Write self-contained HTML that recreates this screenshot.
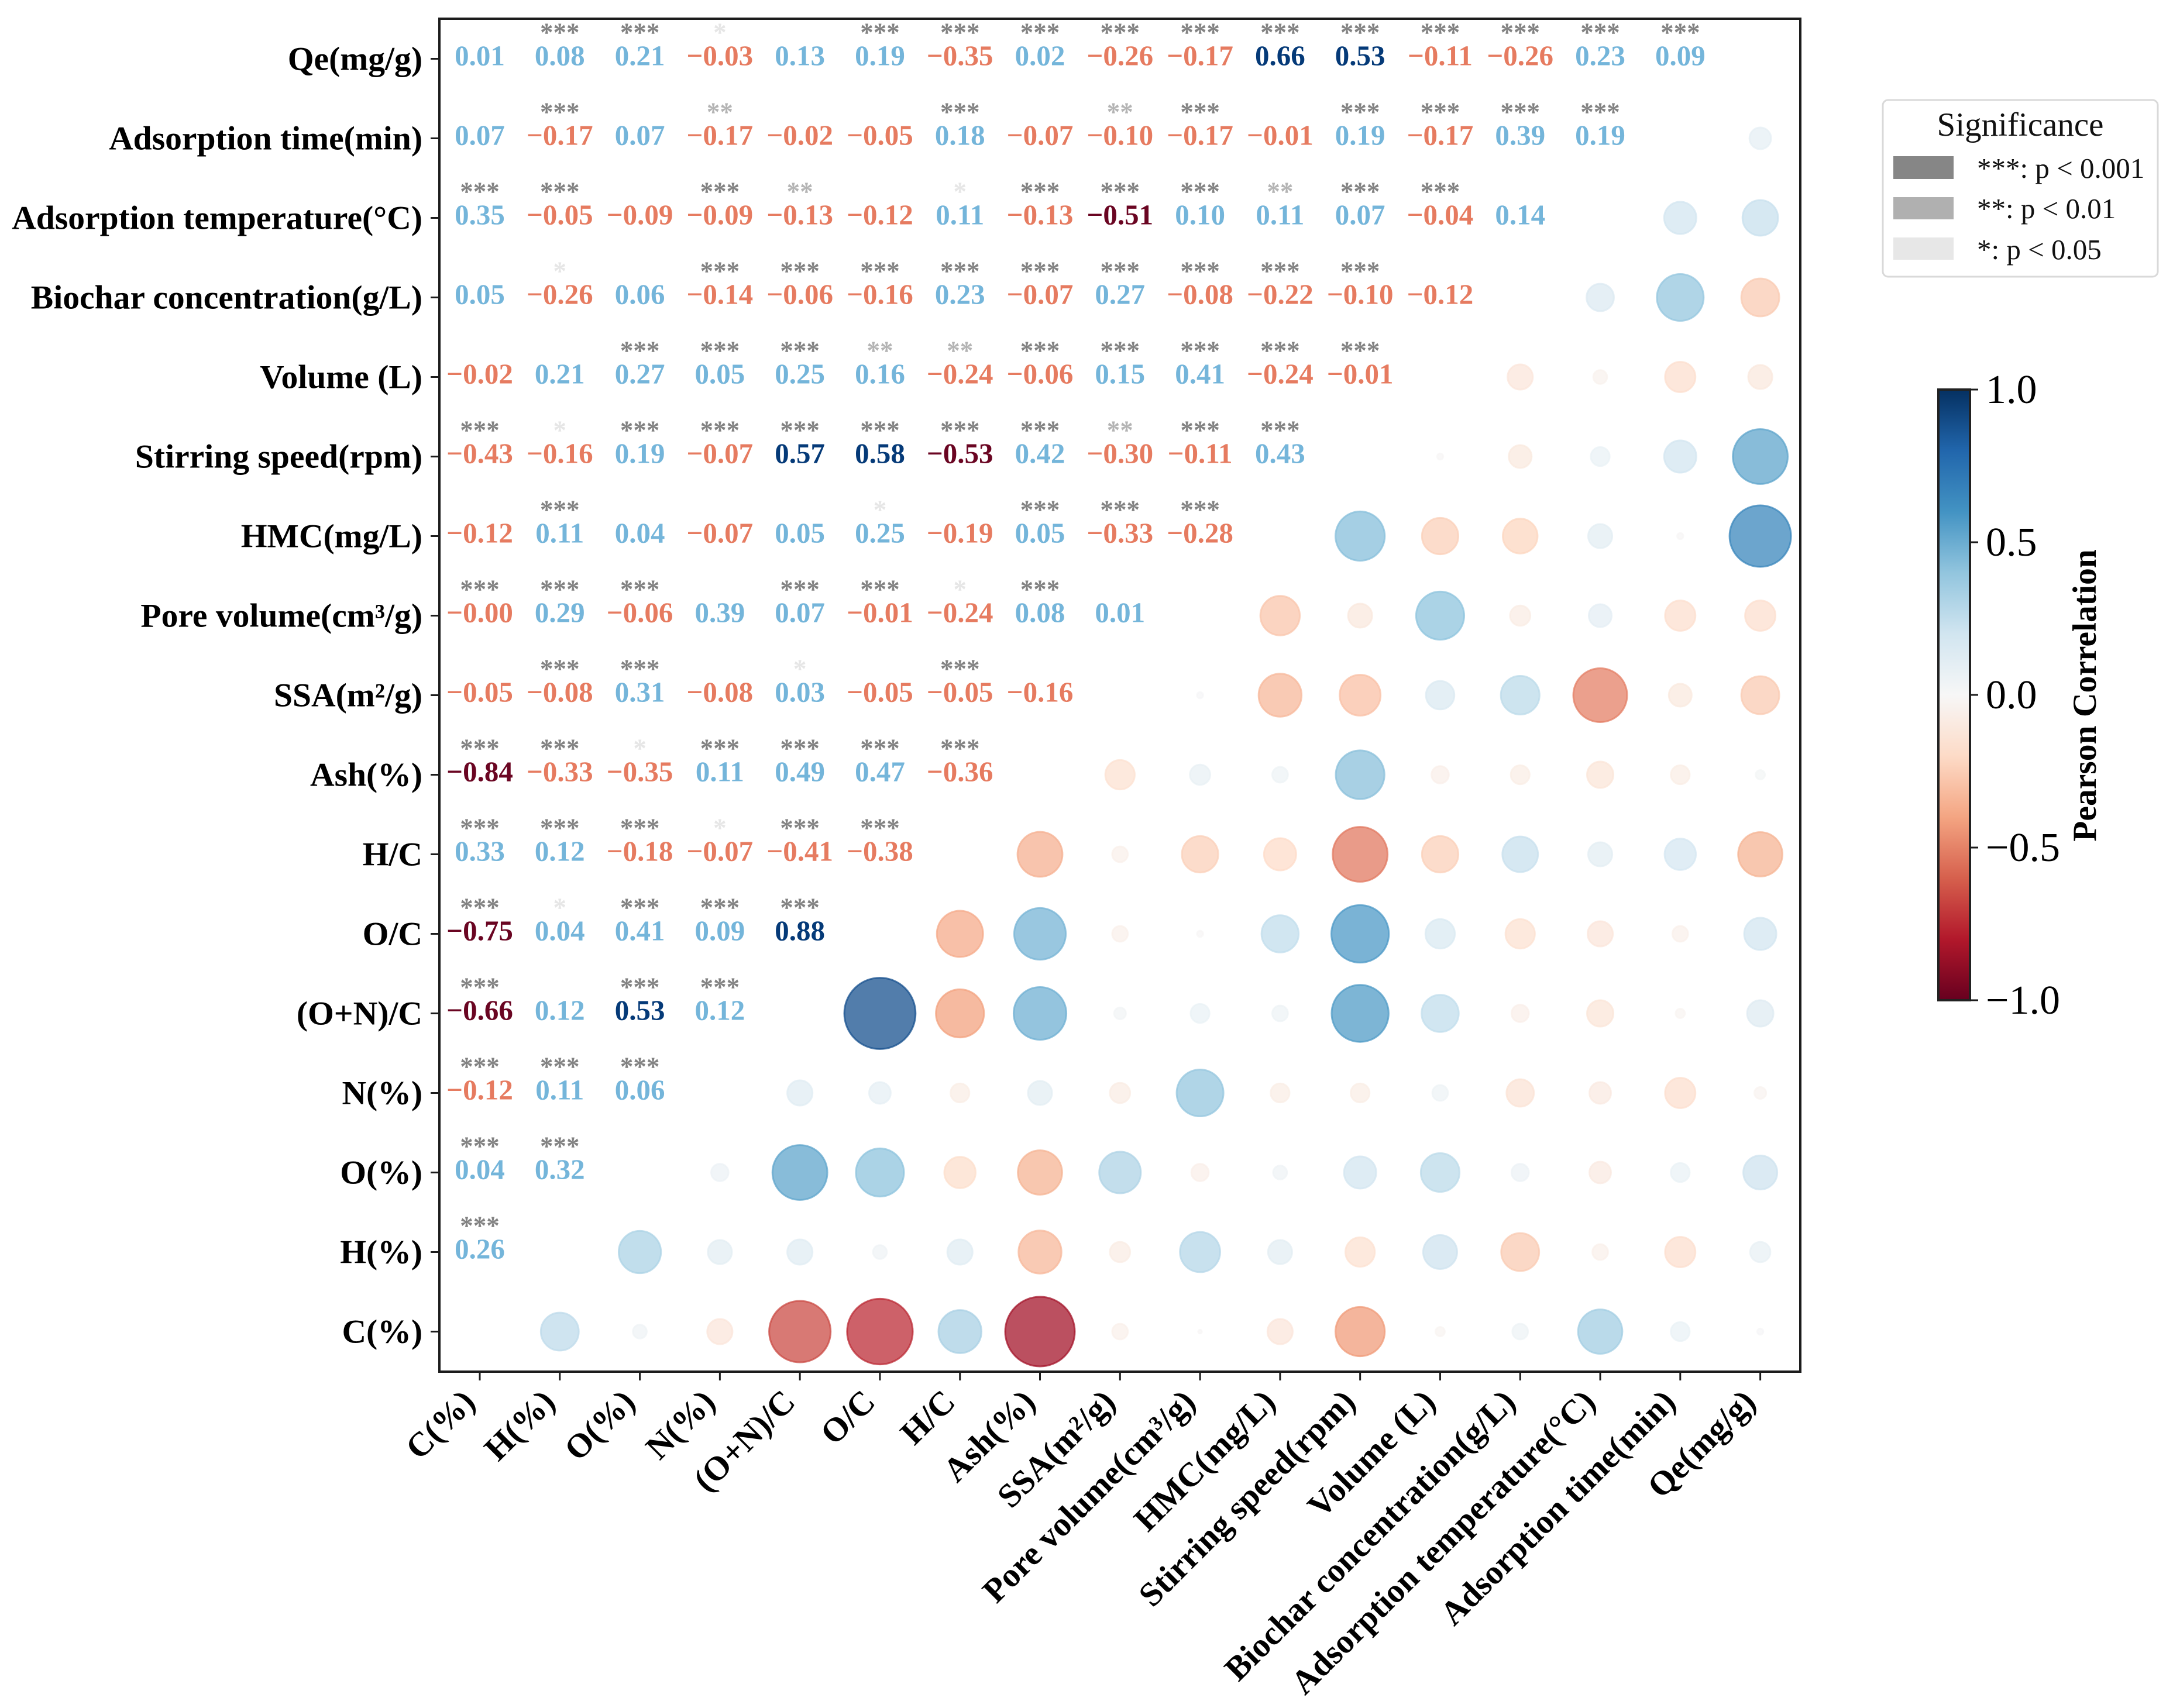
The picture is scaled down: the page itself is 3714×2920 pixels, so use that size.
<!DOCTYPE html>
<html lang="en">
<head>
<meta charset="utf-8">
<title>Pearson correlation matrix</title>
<style>
html,body{margin:0;padding:0;background:#fff;}
#stage{display:block;width:3714px;height:2920px;}
svg text{font-family:"Liberation Serif","Noto Serif CJK SC",serif;}
</style>
</head>
<body>
<svg id="stage" xmlns="http://www.w3.org/2000/svg" width="3714" height="2920" viewBox="0 0 3714 2920">
  <defs>
    <linearGradient id="cbar-grad" x1="0" y1="1" x2="0" y2="0"></linearGradient>
  </defs>
  <rect x="0" y="0" width="3714" height="2920" fill="#ffffff"></rect>
  <g id="circles"></g>
  <g id="values"></g>
  <g id="stars"></g>
  <rect x="751" y="32" width="2326" height="2313" fill="none" stroke="#1c1c1c" stroke-width="4"></rect>
  <g id="x-axis"></g>
  <g id="y-axis"></g>

  <g>
    <rect x="3218" y="171" width="470" height="302" rx="9" ry="9" fill="#ffffff" stroke="#d9d9d9" stroke-width="3"></rect>
    <text x="3453" y="232" font-size="57" text-anchor="middle" fill="#111">Significance</text>
    <rect x="3236" y="267" width="103" height="39" fill="#868686"></rect>
    <text x="3379" y="304" font-size="49" fill="#111">***: p &lt; 0.001</text>
    <rect x="3236" y="337" width="103" height="38" fill="#b0b0b0"></rect>
    <text x="3379" y="373" font-size="49" fill="#111">**: p &lt; 0.01</text>
    <rect x="3236" y="406" width="103" height="38" fill="#e7e7e7"></rect>
    <text x="3379" y="443" font-size="49" fill="#111">*: p &lt; 0.05</text>
  </g>

  <g id="colorbar">
    <rect x="3313" y="666" width="54" height="1044" fill="url(#cbar-grad)" stroke="#222" stroke-width="4"></rect>
    <text transform="translate(3582,1189) rotate(-90)" font-size="57.6" font-weight="bold" text-anchor="middle" fill="#000">Pearson Correlation</text>
  </g>
</svg>

<script>
// Column order, left to right
const columnLabels = ["C(%)","H(%)","O(%)","N(%)","(O+N)/C","O/C","H/C","Ash(%)","SSA(m²/g)","Pore volume(cm³/g)","HMC(mg/L)","Stirring speed(rpm)","Volume (L)","Biochar concentration(g/L)","Adsorption temperature(°C)","Adsorption time(min)","Qe(mg/g)"];

// Pearson r per row (top to bottom), read left to right up to the diagonal
const rowQe = [0.01,0.08,0.21,-0.03,0.13,0.19,-0.35,0.02,-0.26,-0.17,0.66,0.53,-0.11,-0.26,0.23,0.09];
const rowTime = [0.07,-0.17,0.07,-0.17,-0.02,-0.05,0.18,-0.07,-0.10,-0.17,-0.01,0.19,-0.17,0.39,0.19];
const rowTemp = [0.35,-0.05,-0.09,-0.09,-0.13,-0.12,0.11,-0.13,-0.51,0.10,0.11,0.07,-0.04,0.14];
const rowBiochar = [0.05,-0.26,0.06,-0.14,-0.06,-0.16,0.23,-0.07,0.27,-0.08,-0.22,-0.10,-0.12];
const rowVolume = [-0.02,0.21,0.27,0.05,0.25,0.16,-0.24,-0.06,0.15,0.41,-0.24,-0.01];
const rowStirring = [-0.43,-0.16,0.19,-0.07,0.57,0.58,-0.53,0.42,-0.30,-0.11,0.43];
const rowHMC = [-0.12,0.11,0.04,-0.07,0.05,0.25,-0.19,0.05,-0.33,-0.28];
const rowPore = [-0.0049,0.29,-0.06,0.39,0.07,-0.01,-0.24,0.08,0.01];
const rowSSA = [-0.05,-0.08,0.31,-0.08,0.03,-0.05,-0.05,-0.16];
const rowAsh = [-0.84,-0.33,-0.35,0.11,0.49,0.47,-0.36];
const rowHC = [0.33,0.12,-0.18,-0.07,-0.41,-0.38];
const rowOC = [-0.75,0.04,0.41,0.09,0.88];
const rowONC = [-0.66,0.12,0.53,0.12];
const rowN = [-0.12,0.11,0.06];
const rowO = [0.04,0.32];
const rowH = [0.26];
const rowC = [];

// Number of significance stars per cell
const starsQe = [0,3,3,1,0,3,3,3,3,3,3,3,3,3,3,3];
const starsTime = [0,3,0,2,0,0,3,0,2,3,0,3,3,3,3];
const starsTemp = [3,3,0,3,2,0,1,3,3,3,2,3,3,0];
const starsBiochar = [0,1,0,3,3,3,3,3,3,3,3,3,0];
const starsVolume = [0,0,3,3,3,2,2,3,3,3,3,3];
const starsStirring = [3,1,3,3,3,3,3,3,2,3,3];
const starsHMC = [0,3,0,0,0,1,0,3,3,3];
const starsPore = [3,3,3,0,3,3,1,3,0];
const starsSSA = [0,3,3,0,1,0,3,0];
const starsAsh = [3,3,1,3,3,3,3];
const starsHC = [3,3,3,1,3,3];
const starsOC = [3,1,3,3,3];
const starsONC = [3,0,3,3];
const starsN = [3,3,3];
const starsO = [3,3];
const starsH = [3];
const starsC = [];

const colorbarTicks = [1.0,0.5,0.0,-0.5,-1.0];

const matrix = [rowQe,rowTime,rowTemp,rowBiochar,rowVolume,rowStirring,rowHMC,rowPore,rowSSA,rowAsh,rowHC,rowOC,rowONC,rowN,rowO,rowH,rowC];
const starMatrix = [starsQe,starsTime,starsTemp,starsBiochar,starsVolume,starsStirring,starsHMC,starsPore,starsSSA,starsAsh,starsHC,starsOC,starsONC,starsN,starsO,starsH,starsC];
const rampStops = [[-1,"#67001f"],[-0.8,"#b2182b"],[-0.6,"#d6604d"],[-0.4,"#f4a582"],[-0.2,"#fddbc7"],[0,"#f7f7f7"],[0.2,"#d1e5f0"],[0.4,"#92c5de"],[0.6,"#4393c3"],[0.8,"#2166ac"],[1,"#053061"]];

const NS = "http://www.w3.org/2000/svg";
const nCols = columnLabels.length;
const xScale = i => 820 + i * (3008.6 - 820) / (nCols - 1);
const yScale = r => 100.5 + r * (2276.5 - 100.5) / (nCols - 1);
const cbarScale = v => 1188 - v * 522;
const sizeScale = v => 133 * Math.sqrt(Math.abs(v)) / 2;

function make(tag, attrs, parent, text) {
  const e = document.createElementNS(NS, tag);
  for (const k in attrs) e.setAttribute(k, attrs[k]);
  if (text !== undefined) e.textContent = text;
  parent.appendChild(e);
  return e;
}
function hexToRgb(h) {
  return [parseInt(h.slice(1,3),16),parseInt(h.slice(3,5),16),parseInt(h.slice(5,7),16)];
}
function ramp(v) {
  const c = Math.max(-1, Math.min(1, v));
  for (let i = 0; i < rampStops.length - 1; i++) {
    const a = rampStops[i], b = rampStops[i + 1];
    if (c <= b[0]) {
      const t = (c - a[0]) / (b[0] - a[0]);
      const p = hexToRgb(a[1]), q = hexToRgb(b[1]);
      return "rgb(" + p.map((x, k) => Math.round(x + (q[k] - x) * t)).join(",") + ")";
    }
  }
  return rampStops[rampStops.length - 1][1];
}
function valueColor(v) {
  if (Math.abs(v) >= 0.5) return v > 0 ? "#053a78" : "#6a0522";
  return v > 0 ? "#74b5da" : "#e67b60";
}
function fmt(v) {
  return v.toFixed(2).replace("-", "\u2212");
}

const circles = document.getElementById("circles");
const values = document.getElementById("values");
const stars = document.getElementById("stars");
const xAxis = document.getElementById("x-axis");
const yAxis = document.getElementById("y-axis");
const colorbar = document.getElementById("colorbar");
const grad = document.getElementById("cbar-grad");

rampStops.forEach(s => {
  make("stop", {offset: ((s[0] + 1) / 2 * 100) + "%", "stop-color": s[1]}, grad);
});

// Value labels and stars on the upper-left half
matrix.forEach((row, r) => {
  row.forEach((v, c) => {
    const t = make("text", {x: xScale(c), y: yScale(r) + 11, "font-size": 49, "font-weight": "bold", "text-anchor": "middle", fill: valueColor(v)}, values, fmt(v));
    
    
    const n = starMatrix[r][c];
    if (n > 0) {
      const fill = n === 3 ? "#828282" : (n === 2 ? "#b4b4b4" : "#e6e6e6");
      const s = make("text", {x: xScale(c), y: yScale(r) - 30, "font-size": 45, "font-weight": "bold", "text-anchor": "middle", fill: fill}, stars, "*".repeat(n));
      
      
    }
  });
});

// Circles on the lower-right half mirror the same matrix
for (let r = 0; r < nCols; r++) {
  for (let c = nCols - r; c < nCols; c++) {
    const v = matrix[nCols - 1 - c][nCols - 1 - r];
    const col = ramp(v);
    const dot = make("circle", {cx: xScale(c), cy: yScale(r), r: sizeScale(v) - 1.5, fill: col, "fill-opacity": 0.74, stroke: col, "stroke-opacity": 0.74, "stroke-width": 3}, circles);
    
    
  }
}

// Axes
columnLabels.forEach((label, i) => {
  const x = xScale(i);
  const tick = make("line", {x1: x, x2: x, y1: 2345, y2: 2360, stroke: "#1c1c1c", "stroke-width": 3}, xAxis);
  
  
  const lab = make("text", {transform: "translate(" + (x - 5) + ",2400) rotate(-45)", "font-size": 58, "font-weight": "bold", "text-anchor": "end", fill: "#000"}, xAxis, label);
  
  

  const y = yScale(nCols - 1 - i);
  const ytick = make("line", {x1: 736, x2: 751, y1: y, y2: y, stroke: "#1c1c1c", "stroke-width": 3}, yAxis);
  
  
  const ylab = make("text", {x: 722, y: y + 19, "font-size": 57.6, "font-weight": "bold", "text-anchor": "end", fill: "#000"}, yAxis, label);
  
  
});

// Colorbar ticks
colorbarTicks.forEach(v => {
  const y = cbarScale(v);
  const tick = make("line", {x1: 3367, x2: 3381, y1: y, y2: y, stroke: "#1c1c1c", "stroke-width": 3}, colorbar);
  
  
  const lab = make("text", {x: 3394, y: y + 23, "font-size": 70, fill: "#000"}, colorbar, v.toFixed(1).replace("-", "\u2212"));
  
  
});
</script>
</body>
</html>
